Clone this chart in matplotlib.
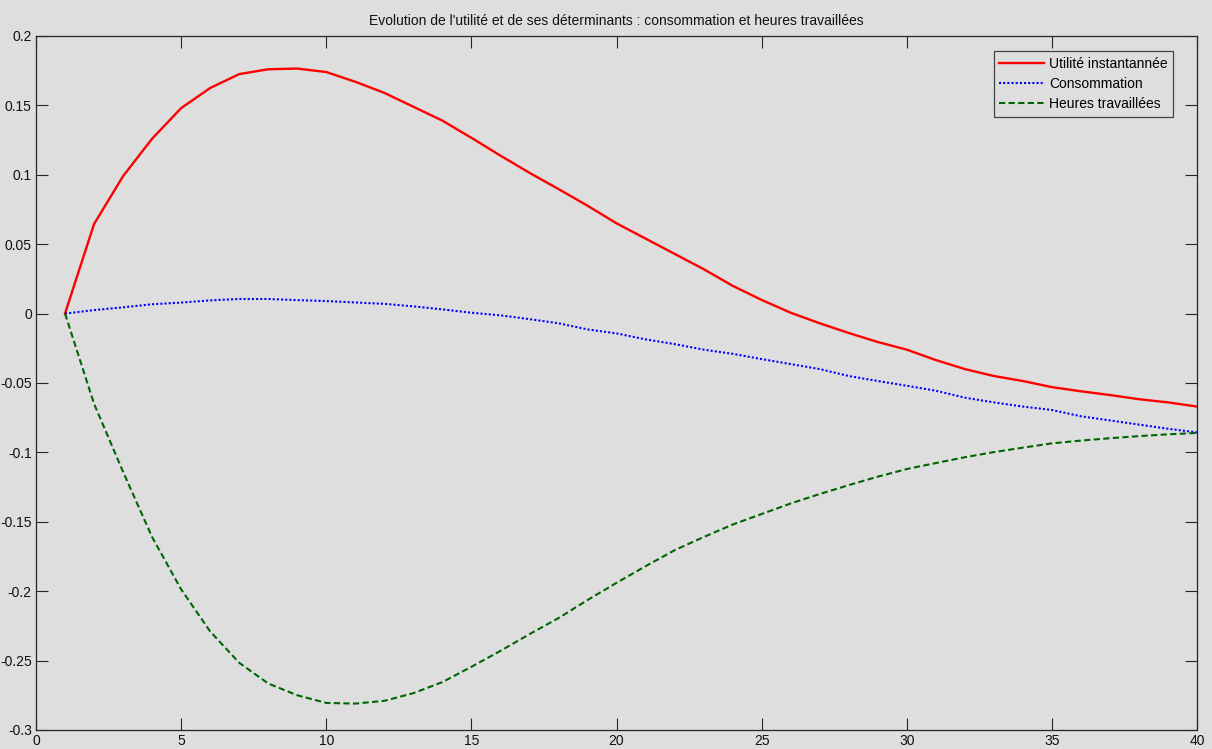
import matplotlib
matplotlib.use("Agg")
import matplotlib.pyplot as plt
import numpy as np

plt.rcParams['font.family'] = ['Liberation Sans', 'DejaVu Sans']
plt.rcParams['axes.unicode_minus'] = False

# periods 1..40
periodes = np.arange(1, 41)

utilite = [0.0, 0.0645, 0.099, 0.126, 0.148, 0.1625, 0.1725, 0.176, 0.1765, 0.174,
           0.167, 0.159, 0.149, 0.139, 0.1266, 0.1138, 0.1014, 0.0897, 0.0777, 0.065,
           0.054, 0.043, 0.032, 0.020, 0.0098, 0.0006, -0.007, -0.014, -0.0205, -0.026,
           -0.0335, -0.040, -0.045, -0.0486, -0.053, -0.056, -0.0587, -0.0617, -0.064, -0.067]

consommation = [0.0, 0.0025, 0.0045, 0.0067, 0.0079, 0.0095, 0.0105, 0.0105, 0.0097, 0.009,
                0.008, 0.007, 0.0052, 0.003, 0.0006, -0.0013, -0.004, -0.007, -0.0114, -0.0143,
                -0.0186, -0.022, -0.026, -0.029, -0.0328, -0.0364, -0.040, -0.045, -0.0486, -0.052,
                -0.0556, -0.0606, -0.064, -0.067, -0.0695, -0.074, -0.077, -0.080, -0.083, -0.0856]

heures = [0.0, -0.0650, -0.114, -0.161, -0.1987, -0.229, -0.2516, -0.2665, -0.275, -0.2805,
          -0.281, -0.279, -0.2735, -0.2655, -0.2545, -0.243, -0.231, -0.2194, -0.2064, -0.194,
          -0.182, -0.1705, -0.161, -0.152, -0.1444, -0.1368, -0.130, -0.1236, -0.1175, -0.112,
          -0.1077, -0.1035, -0.0998, -0.0966, -0.0935, -0.0915, -0.0898, -0.0883, -0.087, -0.086]

yticks = [-0.3, -0.25, -0.2, -0.15, -0.1, -0.05, 0, 0.05, 0.1, 0.15, 0.2]
ylabels = ['-0.3', '-0.25', '-0.2', '-0.15', '-0.1', '-0.05', '0', '0.05', '0.1', '0.15', '0.2']

gris = '#dedede'

fig = plt.figure(figsize=(12.12, 7.49), dpi=100, facecolor=gris)
ax = fig.add_axes([0.0297, 0.0254, 0.958, 0.9266], facecolor=gris)

ax.plot(periodes, utilite, color='#ff0000', lw=1.7, label='Utilité instantannée')
ax.plot(periodes, consommation, color='#0000ff', lw=1.5, linestyle=(0, (1, 1)),
        dash_capstyle='butt', label='Consommation')
ax.plot(periodes, heures, color='#006400', lw=1.5, linestyle=(0, (3, 1.6)),
        dash_capstyle='butt', label='Heures travaillées')

ax.set_xlim(0, 40)
ax.set_ylim(-0.3, 0.2)
ax.set_xticks(np.arange(0, 41, 5))
ax.set_yticks(yticks)
ax.set_yticklabels(ylabels)

ax.tick_params(direction='in', length=8.5, width=0.8, color='#262626',
               top=True, right=True, labelsize=10, labelcolor='#111111', pad=3)
for s in ax.spines.values():
    s.set_color('#262626')
    s.set_linewidth(0.9)

ax.set_title("Evolution de l'utilité et de ses déterminants : consommation et heures travaillées",
             fontsize=10, color='#111111', pad=8)

leg = ax.legend(loc='upper right', bbox_to_anchor=(0.9795, 0.978), fontsize=10,
                fancybox=False, framealpha=1, facecolor=gris, edgecolor='#444444',
                handlelength=3.2, handletextpad=0.4, borderpad=0.4, labelspacing=0.45,
                borderaxespad=0)
leg.get_frame().set_linewidth(0.9)

fig.savefig('out.png', dpi=100, facecolor=gris)
